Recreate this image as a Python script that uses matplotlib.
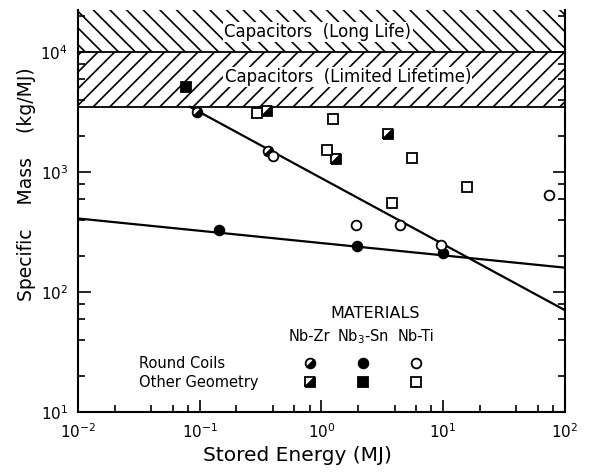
import numpy as np
import matplotlib
matplotlib.use("Agg")
import matplotlib.pyplot as plt
from matplotlib.markers import MarkerStyle
from matplotlib.transforms import Affine2D
from matplotlib.ticker import LogLocator, NullFormatter

# Stored energy (MJ) and specific mass (kg/MJ)
nbzr_round_x = [0.096, 0.366]
nbzr_round_y = [3140, 1500]
nbzr_other_x = [0.355, 1.31, 3.5]
nbzr_other_y = [3220, 1280, 2060]

nb3sn_round_x = [0.145, 1.95, 10.0]
nb3sn_round_y = [329, 243, 210]
nb3sn_other_x = [0.078]
nb3sn_other_y = [5080]

nbti_round_x = [0.402, 1.91, 4.41, 9.7, 74.3]
nbti_round_y = [1360, 366, 361, 246, 648]
nbti_other_x = [0.294, 1.25, 1.12, 5.57, 3.82, 15.8]
nbti_other_y = [3080, 2770, 1520, 1300, 555, 754]

# trend lines (end points)
steep_x = [0.083, 100]
steep_y = [3500, 70.8]
flat_x = [0.01, 100]
flat_y = [411, 160]

# capacitor bands
cap_limited = (3500, 1e4)
cap_long = (1e4, 2.24e4)

half = MarkerStyle('o', fillstyle='bottom', transform=Affine2D().rotate_deg(45))
half_sq = MarkerStyle('D', fillstyle='bottom', transform=Affine2D().rotate_deg(45))

fig = plt.figure(figsize=(5.99, 4.76), dpi=100)
ax = fig.add_axes([0.130, 0.134, 0.813, 0.845])
ax.set_xscale('log')
ax.set_yscale('log')
ax.set_xlim(1e-2, 1e2)
ax.set_ylim(1e1, cap_long[1])

plt.rcParams['hatch.linewidth'] = 1.2
ax.axhspan(*cap_long, facecolor='white', edgecolor='black', hatch='\\\\', linewidth=0)
ax.axhspan(*cap_limited, facecolor='white', edgecolor='black', hatch='//', linewidth=0)
ax.axhline(cap_limited[0], color='black', lw=1.3)
ax.axhline(cap_long[0], color='black', lw=1.3)

ax.text(0.935, 1.47e4, 'Capacitors  (Long Life)', ha='center', va='center', fontsize=12,
        bbox=dict(facecolor='white', edgecolor='none', pad=1))
ax.text(1.65, 6.2e3, 'Capacitors  (Limited Lifetime)', ha='center', va='center', fontsize=12,
        bbox=dict(facecolor='white', edgecolor='none', pad=1))

ax.plot(steep_x, steep_y, color='black', lw=1.6)
ax.plot(flat_x, flat_y, color='black', lw=1.6)

ms = 7
kw = dict(linestyle='none', markeredgecolor='black', markeredgewidth=1.3, zorder=5)
ax.plot(nbzr_round_x, nbzr_round_y, marker=half, ms=ms, markerfacecolor='black',
        markerfacecoloralt='white', **kw)
ax.plot(nbzr_other_x, nbzr_other_y, marker=half_sq, ms=ms, markerfacecolor='black',
        markerfacecoloralt='white', **kw)
ax.plot(nb3sn_round_x, nb3sn_round_y, marker='o', ms=ms, markerfacecolor='black', **kw)
ax.plot(nb3sn_other_x, nb3sn_other_y, marker='s', ms=ms, markerfacecolor='black', **kw)
ax.plot(nbti_round_x, nbti_round_y, marker='o', ms=ms, markerfacecolor='white', **kw)
ax.plot(nbti_other_x, nbti_other_y, marker='s', ms=ms, markerfacecolor='white', **kw)

# materials key
ax.text(0.610, 0.245, 'MATERIALS', transform=ax.transAxes, ha='center', va='center', fontsize=11.5)
cols = [0.476, 0.586, 0.694]
names = ['Nb-Zr', r'Nb$_3$-Sn', 'Nb-Ti']
for cx, nm in zip(cols, names):
    ax.text(cx, 0.188, nm, transform=ax.transAxes, ha='center', va='center', fontsize=10.5)
ax.text(0.125, 0.122, 'Round Coils', transform=ax.transAxes, ha='left', va='center', fontsize=10.5)
ax.text(0.125, 0.075, 'Other Geometry', transform=ax.transAxes, ha='left', va='center', fontsize=10.5)
key_round = [half, 'o', 'o']
key_other = [half_sq, 's', 's']
key_fill = ['black', 'black', 'white']
for cx, mr, mo, fc in zip(cols, key_round, key_other, key_fill):
    ax.plot([cx], [0.122], transform=ax.transAxes, marker=mr, ms=ms, markerfacecolor=fc,
            markerfacecoloralt='white', **kw)
    ax.plot([cx], [0.075], transform=ax.transAxes, marker=mo, ms=ms, markerfacecolor=fc,
            markerfacecoloralt='white', **kw)

ax.spines['top'].set_visible(False)
for s in ['left', 'right', 'bottom']:
    ax.spines[s].set_linewidth(1.5)
ax.xaxis.set_minor_locator(LogLocator(base=10, subs=(2, 4, 6, 8)))
ax.yaxis.set_minor_locator(LogLocator(base=10, subs=(2, 4, 6, 8)))
ax.xaxis.set_minor_formatter(NullFormatter())
ax.yaxis.set_minor_formatter(NullFormatter())
ax.tick_params(which='both', direction='in', right=True, top=False, width=1.2)
ax.tick_params(which='major', length=9, labelsize=11, pad=7)
ax.tick_params(which='minor', length=5)

ax.set_xlabel('Stored Energy (MJ)', fontsize=14.5)
ax.xaxis.set_label_coords(0.45, -0.085)
ax.set_ylabel('Specific    Mass    (kg/MJ)', fontsize=13.5)
ax.yaxis.set_label_coords(-0.085, 0.567)

fig.savefig('out.png', dpi=100)
